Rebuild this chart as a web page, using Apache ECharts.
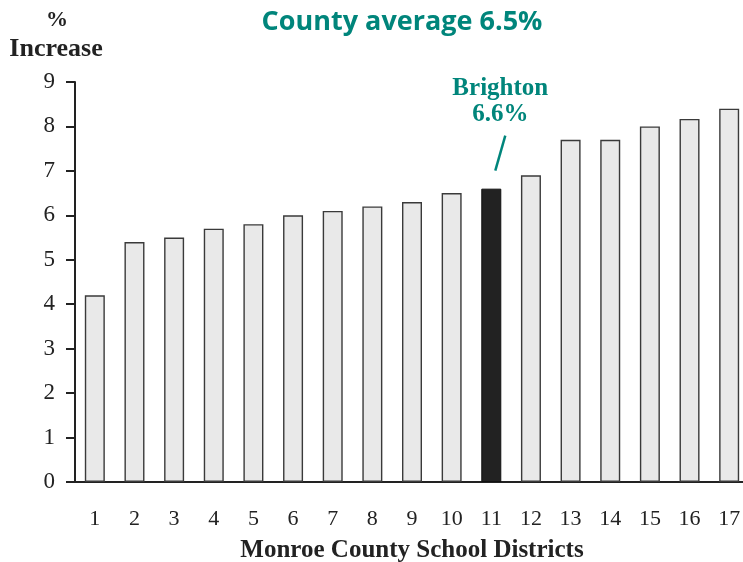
<!DOCTYPE html>
<html><head><meta charset="utf-8">
<script src="https://cdn.jsdelivr.net/npm/echarts@6/dist/echarts.min.js"></script>
<style>html,body{margin:0;padding:0;background:#fff}#c{width:743px;height:562px}</style>
</head><body><div id="c"></div>
<script>
const districts = ['1','2','3','4','5','6','7','8','9','10','11','12','13','14','15','16','17'];
const increase = [4.2,5.4,5.5,5.7,5.8,6.0,6.1,6.2,6.3,6.5,6.6,6.9,7.7,7.7,8.0,8.17,8.4];
const highlightIndex = 10;
const highlightName = 'Brighton';
const highlightLabel = '6.6%';
const titleText = 'County average 6.5%';

const teal = '#00857b';
const serif = '"Liberation Serif", "DejaVu Serif", serif';
const chart = echarts.init(document.getElementById('c'));
chart.setOption({
  animation: false,
  title: {text: titleText, left: 397, top: 4, textAlign: 'center',
    textStyle: {color: teal, fontFamily: '"Open Sans", "Noto Sans", sans-serif', fontWeight: 'bold', fontSize: 27}},
  grid: {left: 75, right: -6, top: 82, bottom: 80, containLabel: false, outerBoundsMode: 'none'},
  xAxis: {type: 'category', data: districts,
    axisLine: {lineStyle: {color: '#222', width: 2}},
    axisTick: {show: false},
    axisLabel: {color: '#222', fontFamily: serif, fontSize: 22, margin: 26},
    name: 'Monroe County School Districts', nameLocation: 'middle', nameGap: 56,
    nameTextStyle: {color: '#222', fontFamily: serif, fontSize: 25, fontWeight: 'bold'}
  },
  yAxis: {type: 'value', min: 0, max: 9, interval: 1,
    axisLine: {show: true, lineStyle: {color: '#222', width: 2}},
    axisTick: {show: true, inside: false, length: 9, lineStyle: {color: '#222', width: 2}},
    splitLine: {show: false},
    axisLabel: {color: '#222', fontFamily: serif, fontSize: 23, margin: 20}
  },
  series: [{
    type: 'bar', barWidth: 20,
    data: increase.map((v, i) => i === highlightIndex
      ? {value: v, itemStyle: {color: '#222', borderColor: '#111', borderWidth: 1}}
      : v),
    itemStyle: {color: '#e9e9e9', borderColor: '#3a3a3a', borderWidth: 1.4}
  }]
});
const p = chart.convertToPixel({gridIndex: 0}, [highlightIndex, increase[highlightIndex]]);
chart.setOption({graphic: [
  {type: 'text', x: 57, y: 9, style: {text: '%', fill: '#222', font: 'bold 22px ' + serif, textAlign: 'center'}},
  {type: 'text', x: 56, y: 36, style: {text: 'Increase', fill: '#222', font: 'bold 26px ' + serif, textAlign: 'center'}},
  {type: 'text', x: p[0] + 9, y: p[1] - 113, style: {text: highlightName, fill: teal, font: 'bold 25px ' + serif, textAlign: 'center'}},
  {type: 'text', x: p[0] + 9, y: p[1] - 87, style: {text: highlightLabel, fill: teal, font: 'bold 25px ' + serif, textAlign: 'center'}},
  {type: 'line', shape: {x1: p[0] + 14, y1: p[1] - 53, x2: p[0] + 4, y2: p[1] - 18}, style: {stroke: teal, lineWidth: 2.5}}
]});
</script></body></html>
